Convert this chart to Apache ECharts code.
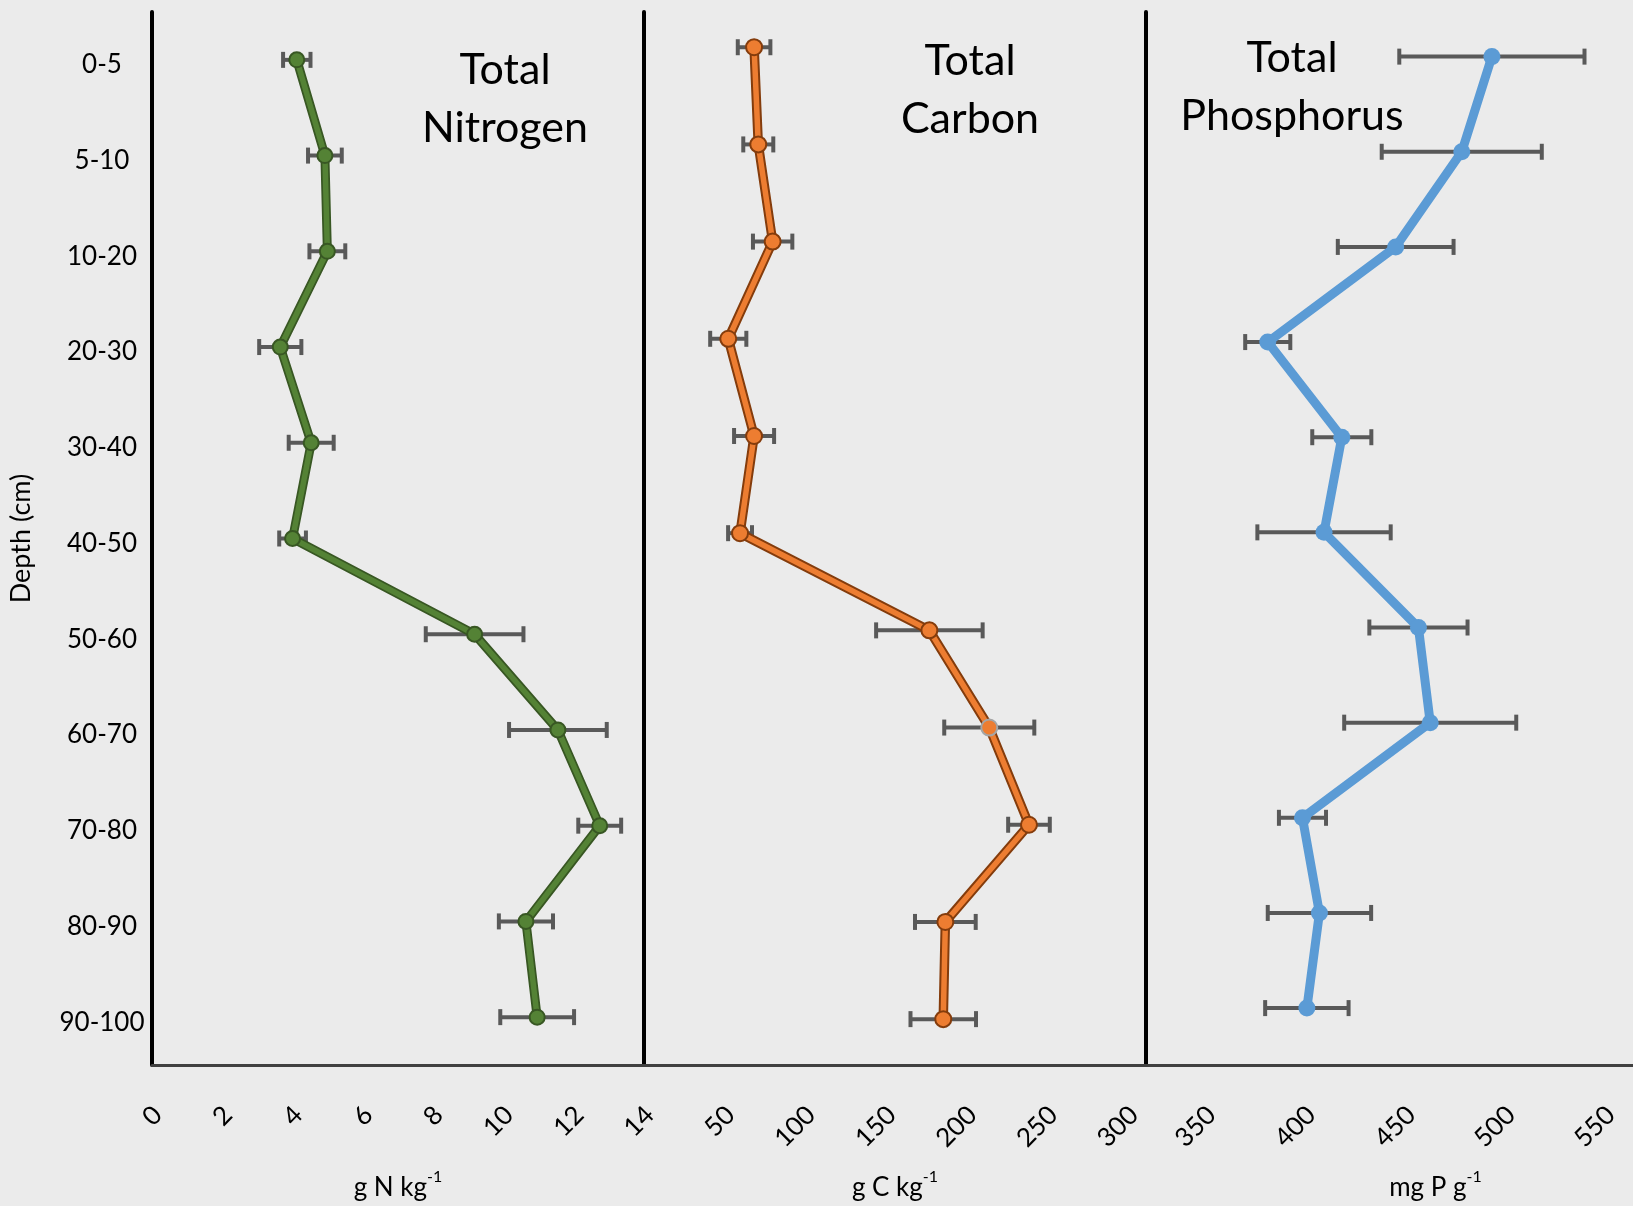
<!DOCTYPE html>
<html>
<head>
<meta charset="utf-8">
<script src="https://cdn.jsdelivr.net/npm/echarts@6/dist/echarts.min.js"></script>
<style>
  html, body { margin: 0; padding: 0; background: #ebebeb; }
  #profile { width: 1633px; height: 1206px; }
</style>
</head>
<body>
<div id="profile"></div>
<script>
// depth classes (cm), top to bottom
const depths = ['0-5', '5-10', '10-20', '20-30', '30-40', '40-50', '50-60', '60-70', '70-80', '80-90', '90-100'];

// Total nitrogen, g N kg-1 (mean, +/- error)
const nitrogen = [4.12, 4.92, 4.99, 3.65, 4.53, 4.00, 9.18, 11.55, 12.74, 10.64, 10.96];
const nitrogenErr = [0.39, 0.48, 0.51, 0.60, 0.64, 0.38, 1.39, 1.39, 0.61, 0.77, 1.05];

// Total carbon, g C kg-1
const carbon = [68.2, 70.8, 79.7, 52.2, 68.2, 59.5, 176.8, 213.9, 238.5, 186.7, 185.4];
const carbonErr = [10.1, 9.3, 12.2, 11.2, 12.4, 7.4, 33.0, 27.9, 12.9, 18.8, 20.3];

// Total phosphorus, mg P g-1
const phosphorus = [493.3, 478.2, 445.1, 381.0, 418.1, 409.2, 456.5, 462.4, 398.4, 406.9, 400.6];
const phosphorusErr = [46.4, 40.1, 29.0, 11.3, 14.8, 33.4, 24.6, 43.1, 11.8, 25.9, 20.9];

// tick labels
const carbonTicks = [50, 100, 150, 200, 250, 300];
const phosphorusTicks = [350, 400, 450, 500, 550];

const FONT = 'Lato';

let myChart = echarts.init(document.getElementById('profile'));

// y index per depth (panel 1 uses category names, others use plain index)
const rowIdx = depths.map((d, i) => i);

function errorBars(gi, means, errs, ys) {
  return {
    type: 'custom',
    xAxisIndex: gi,
    yAxisIndex: gi,
    z: 1,
    silent: true,
    data: means.map((m, i) => [m - errs[i], m + errs[i], ys[i]]),
    encode: { x: [0, 1], y: 2 },
    renderItem: function (params, api) {
      let lo = api.coord([api.value(0), api.value(2)]);
      let hi = api.coord([api.value(1), api.value(2)]);
      let cap = 8;
      let style = { stroke: '#595959', lineWidth: 4 };
      return {
        type: 'group',
        children: [
          { type: 'line', shape: { x1: lo[0], y1: lo[1], x2: hi[0], y2: hi[1] }, style: style },
          { type: 'line', shape: { x1: lo[0], y1: lo[1] - cap, x2: lo[0], y2: lo[1] + cap }, style: style },
          { type: 'line', shape: { x1: hi[0], y1: hi[1] - cap, x2: hi[0], y2: hi[1] + cap }, style: style }
        ]
      };
    }
  };
}

// dark edge drawn under the coloured line
function edgeLine(gi, vals, ys, color, width) {
  return {
    type: 'line',
    xAxisIndex: gi,
    yAxisIndex: gi,
    data: vals.map((v, i) => [v, ys[i]]),
    symbol: 'none',
    silent: true,
    z: 2,
    lineStyle: { color: color, width: width }
  };
}

function mainLine(gi, vals, ys, color, width, symbolSize, border) {
  return {
    type: 'line',
    xAxisIndex: gi,
    yAxisIndex: gi,
    data: vals.map((v, i) => [v, ys[i]]),
    symbol: 'circle',
    symbolSize: symbolSize,
    z: 3,
    lineStyle: { color: color, width: width },
    itemStyle: { color: color, borderColor: border || color, borderWidth: border ? 2 : 0, opacity: 1 }
  };
}

// tick text is pushed a bit off the axis through a padded rich token
const tickRich = { t: { fontFamily: FONT, fontSize: 26, color: '#000', padding: [16, 0, 0, 0] } };
const xLabel = { rotate: 45, margin: 40, formatter: v => '{t|' + v + '}', rich: tickRich };
const xLine = { show: true, onZero: false, lineStyle: { color: '#404040', width: 3 } };
const yLine = { show: true, onZero: false, lineStyle: { color: '#000', width: 4 } };
const unitRich = {
  a: { fontFamily: FONT, fontSize: 26, color: '#000', lineHeight: 32, verticalAlign: 'bottom' },
  s: { fontFamily: FONT, fontSize: 16, color: '#000', lineHeight: 32, verticalAlign: 'top' }
};

// carbon 60-70 marker has a grey rim in the original
let carbonSeries = mainLine(1, carbon, rowIdx, '#ed7d31', 5.5, 16, '#843c0c');
carbonSeries.data[7] = { value: carbonSeries.data[7], itemStyle: { borderColor: '#a5a5a5' } };

let option = {
  backgroundColor: '#ebebeb',
  animation: false,
  grid: [
    { left: 152, width: 492, top: 12, height: 1059 },
    { left: 644, width: 502, top: 12, height: 1059 },
    { left: 1146, width: 487, top: 12, height: 1059 }
  ],
  xAxis: [
    {
      gridIndex: 0, type: 'value', min: 0, max: 14, interval: 2,
      axisLine: xLine, axisTick: { show: false }, splitLine: { show: false },
      axisLabel: xLabel,
      name: '{a|g N kg}{s|-1}', nameLocation: 'middle', nameGap: 104,
      nameTextStyle: { rich: unitRich }
    },
    {
      gridIndex: 1, type: 'value', min: 0, max: 311,
      axisLine: xLine, axisTick: { show: false }, splitLine: { show: false },
      axisLabel: Object.assign({ customValues: carbonTicks }, xLabel),
      name: '{a|g C kg}{s|-1}', nameLocation: 'middle', nameGap: 104,
      nameTextStyle: { rich: unitRich }
    },
    {
      gridIndex: 2, type: 'value', min: 320, max: 564,
      axisLine: xLine, axisTick: { show: false }, splitLine: { show: false },
      axisLabel: Object.assign({ customValues: phosphorusTicks }, xLabel),
      name: '{a|mg P g}{s|-1}', nameLocation: 'middle', nameGap: 104,
      nameTextStyle: { rich: unitRich, padding: [0, 0, 0, 92] }
    }
  ],
  yAxis: [
    {
      gridIndex: 0, type: 'category', data: depths, inverse: true,
      axisLine: yLine, axisTick: { show: false }, splitLine: { show: false },
      axisLabel: {
        align: 'center', margin: 50,
        formatter: v => '{d|' + v + '}',
        rich: { d: { fontFamily: FONT, fontSize: 26, color: '#000', padding: [10, 0, 0, 0] } }
      },
      name: 'Depth (cm)', nameLocation: 'middle', nameRotate: 90, nameGap: 117,
      nameTextStyle: { color: '#000', fontFamily: FONT, fontSize: 27 }
    },
    {
      gridIndex: 1, type: 'value', inverse: true, min: -0.3625, max: 10.472,
      axisLine: yLine, axisTick: { show: false }, splitLine: { show: false }, axisLabel: { show: false }
    },
    {
      gridIndex: 2, type: 'value', inverse: true, min: -0.469, max: 10.598,
      axisLine: yLine, axisTick: { show: false }, splitLine: { show: false }, axisLabel: { show: false }
    }
  ],
  graphic: [
    { type: 'text', x: 505, y: 41, style: { text: 'Total\nNitrogen', align: 'center', verticalAlign: 'top', fontFamily: FONT, fontSize: 43, lineHeight: 58, fill: '#000' } },
    { type: 'text', x: 970, y: 32, style: { text: 'Total\nCarbon', align: 'center', verticalAlign: 'top', fontFamily: FONT, fontSize: 43, lineHeight: 58, fill: '#000' } },
    { type: 'text', x: 1292, y: 29, style: { text: 'Total\nPhosphorus', align: 'center', verticalAlign: 'top', fontFamily: FONT, fontSize: 43, lineHeight: 58, fill: '#000' } }
  ],
  series: [
    errorBars(0, nitrogen, nitrogenErr, depths),
    edgeLine(0, nitrogen, depths, '#385723', 9),
    mainLine(0, nitrogen, depths, '#548235', 5.5, 15, '#385723'),

    errorBars(1, carbon, carbonErr, rowIdx),
    edgeLine(1, carbon, rowIdx, '#843c0c', 9.5),
    carbonSeries,

    errorBars(2, phosphorus, phosphorusErr, rowIdx),
    mainLine(2, phosphorus, rowIdx, '#5b9bd5', 9, 17)
  ]
};

myChart.setOption(option);
</script>
</body>
</html>
